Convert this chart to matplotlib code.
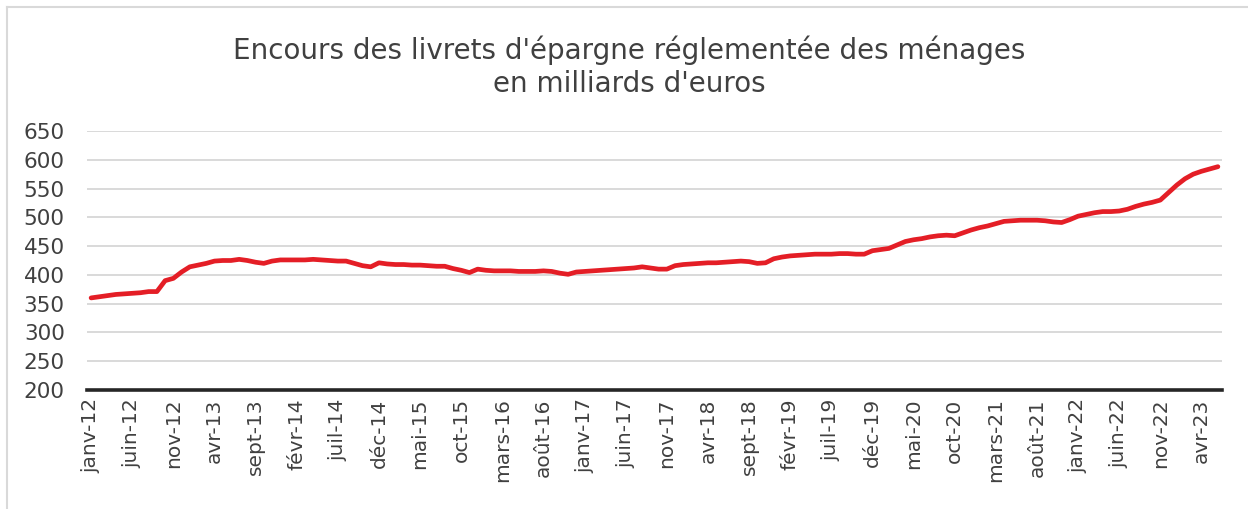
"""Encours des livrets d'épargne réglementée des ménages, janv-12 à juin-23."""

import matplotlib
matplotlib.use("Agg")
import matplotlib.pyplot as plt
from matplotlib.lines import Line2D
import numpy as np

# mois, de janv-12 à juin-23
mois_noms = ["janv", "févr", "mars", "avr", "mai", "juin",
             "juil", "août", "sept", "oct", "nov", "déc"]
mois = [f"{mois_noms[m]}-{a % 100:02d}" for a in range(2012, 2024) for m in range(12)][:138]

# encours en milliards d'euros
encours = [
    360, 362, 364, 366, 367, 368, 369, 371, 371, 390, 394, 405,   # 2012
    414, 417, 420, 424, 425, 425, 427, 425, 422, 420, 424, 426,   # 2013
    426, 426, 426, 427, 426, 425, 424, 424, 420, 416, 414, 421,   # 2014
    419, 418, 418, 417, 417, 416, 415, 415, 411, 408, 404, 410,   # 2015
    408, 407, 407, 407, 406, 406, 406, 407, 406, 403, 401, 405,   # 2016
    406, 407, 408, 409, 410, 411, 412, 414, 412, 410, 410, 416,   # 2017
    418, 419, 420, 421, 421, 422, 423, 424, 423, 420, 421, 428,   # 2018
    431, 433, 434, 435, 436, 436, 436, 437, 437, 436, 436, 442,   # 2019
    444, 446, 452, 458, 461, 463, 466, 468, 469, 468, 473, 478,   # 2020
    482, 485, 489, 493, 494, 495, 495, 495, 494, 492, 491, 496,   # 2021
    502, 505, 508, 510, 510, 511, 514, 519, 523, 526, 530, 543,   # 2022
    556, 567, 575, 580, 584, 588,                                 # 2023
]

TXT = "#404040"
plt.rcParams["font.family"] = ["DejaVu Sans"]

fig = plt.figure(figsize=(12.48, 5.09), dpi=100)
ax = fig.add_axes([87 / 1248, 1 - 390 / 509, (1222 - 87) / 1248, (390 - 131) / 509])

x = np.arange(len(encours))
ax.plot(x, encours, color="#e41e26", linewidth=3.4, solid_capstyle="round",
        solid_joinstyle="round", zorder=3)

ax.set_xlim(-0.5, len(encours) - 0.5)
ax.set_ylim(200, 650)
ax.set_yticks(range(200, 651, 50))
ax.set_xticks(x[::5])
ax.set_xticklabels(mois[::5], rotation=90)

ax.grid(axis="y", color="#d9d9d9", linewidth=1.4)
ax.set_axisbelow(True)
for s in ["top", "right", "left"]:
    ax.spines[s].set_visible(False)
ax.spines["bottom"].set_color("#262626")
ax.spines["bottom"].set_linewidth(2.6)
ax.tick_params(length=0, labelsize=14.5, labelcolor=TXT, pad=6)
ax.tick_params(axis="y", pad=16, labelsize=15.5)

fig.text(0.504, 0.93, "Encours des livrets d'épargne réglementée des ménages\nen milliards d'euros",
         ha="center", va="top", fontsize=20, color=TXT, linespacing=1.2)

# cadre gris du graphique
fig.add_artist(Line2D([7 / 1248, 7 / 1248], [0, 1 - 7 / 509], color="#d9d9d9", linewidth=1.5))
fig.add_artist(Line2D([7 / 1248, 1], [1 - 7 / 509, 1 - 7 / 509], color="#d9d9d9", linewidth=1.5))

fig.savefig("out.png", dpi=100)
